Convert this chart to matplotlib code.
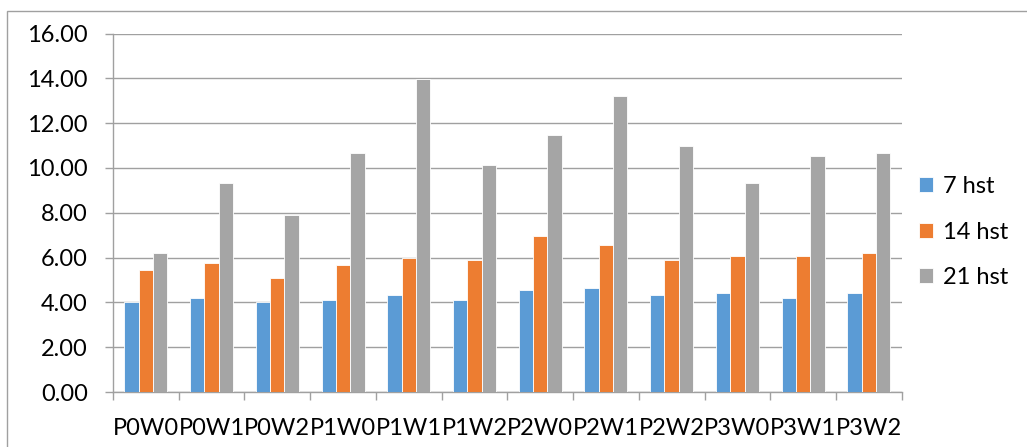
import matplotlib
matplotlib.use("Agg")
import matplotlib.pyplot as plt
import numpy as np
from matplotlib.patches import Rectangle

categories = ["P0W0", "P0W1", "P0W2", "P1W0", "P1W1", "P1W2",
              "P2W0", "P2W1", "P2W2", "P3W0", "P3W1", "P3W2"]
hst7 = [4.00, 4.21, 4.00, 4.09, 4.32, 4.09, 4.54, 4.64, 4.32, 4.42, 4.21, 4.42]
hst14 = [5.43, 5.76, 5.10, 5.65, 6.00, 5.88, 6.98, 6.54, 5.88, 6.09, 6.09, 6.21]
hst21 = [6.21, 9.32, 7.89, 10.66, 13.99, 10.11, 11.45, 13.21, 11.00, 9.32, 10.55, 10.66]
series_names = ["7 hst", "14 hst", "21 hst"]
colors = ["#5b9bd5", "#ed7d31", "#a5a5a5"]
yticks = [0, 2, 4, 6, 8, 10, 12, 14, 16]

plt.rcParams["font.family"] = ["Lato", "DejaVu Sans"]
FS = 17
GRID = "#a0a0a0"

fig = plt.figure(figsize=(10.27, 4.47), dpi=100)
ax = fig.add_axes([0.110, 0.123, 0.768, 0.802])

x = np.arange(len(categories))
w = 0.218
for i, (vals, name, c) in enumerate(zip([hst7, hst14, hst21], series_names, colors)):
    ax.bar(x + (i - 1) * w, vals, width=w, color=c, edgecolor="white",
           linewidth=0.6, label=name, zorder=3)

ax.set_xlim(-0.5, len(categories) - 0.5)
ax.set_ylim(0, 16)
ax.set_yticks(yticks)
ax.set_yticklabels([f"{v:.2f}" for v in yticks], fontsize=FS)
ax.yaxis.grid(True, color=GRID, linewidth=1.0, zorder=0)
ax.set_axisbelow(True)

ax.set_xticks(x)
ax.set_xticklabels(categories, fontsize=FS)
ax.tick_params(axis="x", length=0, pad=19)
ax.set_xticks(np.arange(len(categories) + 1) - 0.5, minor=True)
ax.tick_params(axis="x", which="minor", length=6, color=GRID, width=1.0)
ax.tick_params(axis="y", length=6, color=GRID, width=1.0, pad=12)

for s in ["top", "right"]:
    ax.spines[s].set_visible(False)
for s in ["left", "bottom"]:
    ax.spines[s].set_color(GRID)
    ax.spines[s].set_linewidth(1.0)

leg = ax.legend(loc="center left", bbox_to_anchor=(1.010, 0.446), frameon=False,
                fontsize=FS, handlelength=0.6, handleheight=0.6,
                labelspacing=1.03, handletextpad=0.4, borderaxespad=0)

# chart-area border (runs off the right and bottom edges)
fig.patches.append(Rectangle((7 / 1027, -0.05), 1.1, 1 - 11 / 447 + 0.05,
                             transform=fig.transFigure, fill=False,
                             edgecolor=GRID, linewidth=1.0))

fig.savefig("out.png", dpi=100)
